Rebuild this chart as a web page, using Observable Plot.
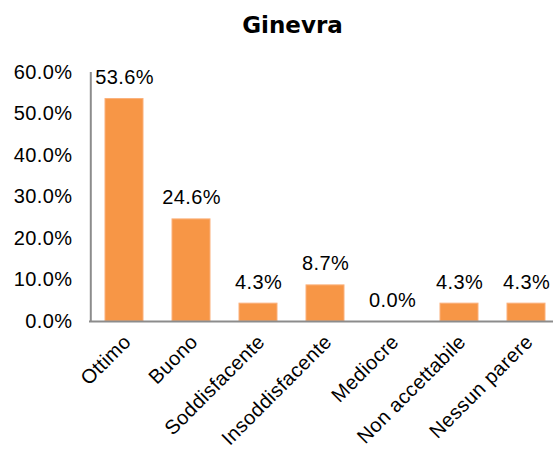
<!DOCTYPE html>
<html><head><meta charset="utf-8">
<script src="https://cdn.jsdelivr.net/npm/d3@7"></script>
<script src="https://cdn.jsdelivr.net/npm/@observablehq/plot@0.6"></script>
<style>
body{margin:0;background:#fff;overflow:hidden;}
#title{height:50px;width:553px;box-sizing:border-box;padding-left:32px;text-align:center;font-family:"DejaVu Sans",sans-serif;font-weight:bold;font-size:23px;line-height:50px;color:#000;}
#chart svg text{font-family:"Liberation Sans",Arial,sans-serif !important;font-size:20px !important;letter-spacing:0.4px;}
</style>
</head><body>
<div id="title">Ginevra</div>
<div id="chart"></div>
<script>
const categories = ["Ottimo","Buono","Soddisfacente","Insoddisfacente","Mediocre","Non accettabile","Nessun parere"];
const values = [53.6, 24.6, 4.3, 8.7, 0.0, 4.3, 4.3];
const yTicks = [0,10,20,30,40,50,60];
const data = categories.map((c,i)=>({cat:c, v:values[i]}));
const fmt = d => d.toFixed(1) + "%";
const step = (561 - 89) / categories.length;
const chart = Plot.plot({
  width: 553, height: 404,
  marginLeft: 89, marginRight: 0, marginTop: 22, marginBottom: 133,
  style: {fontFamily: "Liberation Sans, Arial, sans-serif", fontSize: "20px", color: "#000", background: "#fff"},
  x: {domain: categories, range: [89, 561], paddingInner: 0.44, paddingOuter: 0.22, label: null},
  y: {domain: [0, 60], label: null},
  marks: [
    Plot.barY(data, {x: "cat", y: "v", fill: "#F79646", stroke: "#FBB07A", strokeWidth: 1}),
    Plot.ruleY([0], {stroke: "#8C8C8C", strokeWidth: 2}),
    Plot.ruleX([categories[0]], {dx: -step / 2, y1: 0, y2: 60, stroke: "#8C8C8C", strokeWidth: 2}),
    Plot.text(data, {x: "cat", y: "v", text: d => fmt(d.v), dy: -15, lineAnchor: "bottom", fill: "#000"}),
    Plot.axisY(yTicks, {tickSize: 0, tickPadding: 17, tickFormat: fmt, fill: "#000"}),
    Plot.axisX({tickSize: 0, tickRotate: -45, tickPadding: 17, dx: 3, fill: "#000"})
  ]
});
document.getElementById("chart").appendChild(chart);
</script>
</body></html>
